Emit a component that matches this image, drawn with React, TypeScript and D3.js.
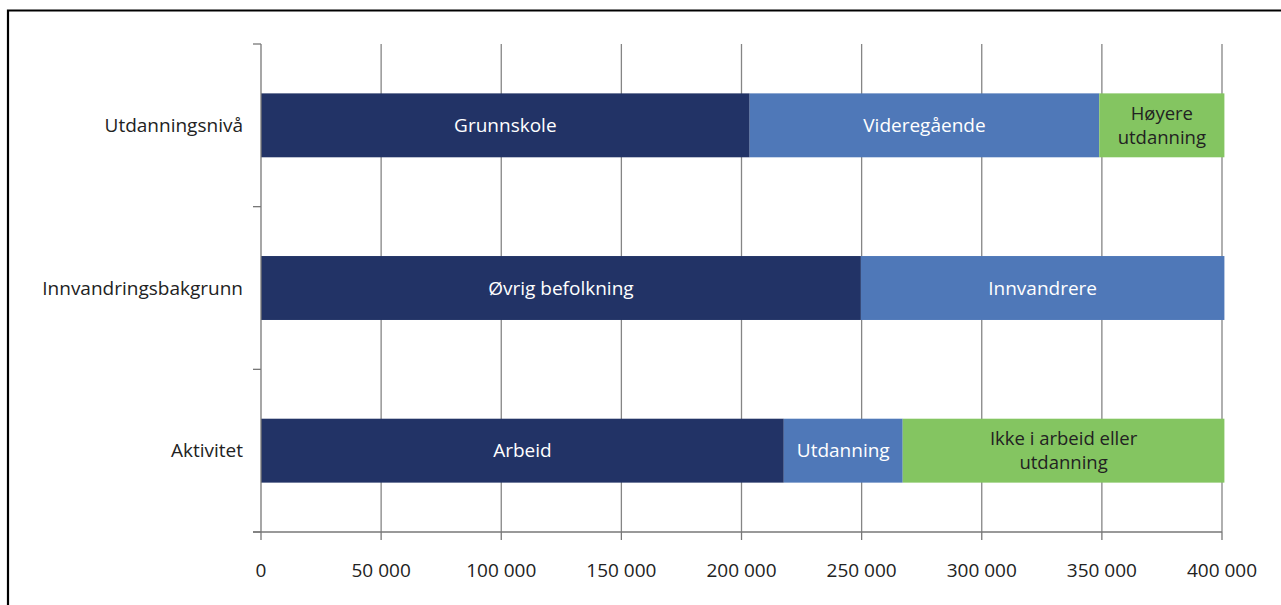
import React, { useEffect, useRef } from 'react';
import * as d3 from 'd3';

// kategorier (ovenfra og ned)
const categories = ['Utdanningsnivå', 'Innvandringsbakgrunn', 'Aktivitet'];

// segmenter per kategori
const educationLabels = ['Grunnskole', 'Videregående', 'Høyere\nutdanning'];
const educationValues = [203400, 145500, 52100];

const immigrationLabels = ['Øvrig befolkning', 'Innvandrere'];
const immigrationValues = [249700, 151300];

const activityLabels = ['Arbeid', 'Utdanning', 'Ikke i arbeid eller\nutdanning'];
const activityValues = [217600, 49500, 133900];

const xTicks = [0, 50000, 100000, 150000, 200000, 250000, 300000, 350000, 400000];

const segmentColors = ['#223366', '#4f78b8', '#84c561'];
const segmentText = ['#ffffff', '#ffffff', '#222222'];

const W = 1281;
const H = 605;

const fmt = (v: number) => d3.format(',')(v).replace(/,/g, ' ');

const App: React.FC = () => {
  const svgRef = useRef<SVGSVGElement>(null);

  useEffect(() => {
    const svg = d3.select(svgRef.current);
    svg.selectAll('*').remove();

    const font = "'Open Sans', 'Noto Sans', sans-serif";
    const fs = 19;
    const margin = { top: 44, right: 59, bottom: 73, left: 261 };

    const x = d3.scaleLinear().domain([0, 400000]).range([margin.left, W - margin.right]);
    const y = d3.scaleBand<string>()
      .domain(categories)
      .range([margin.top, H - margin.bottom])
      .paddingInner(0.607)
      .paddingOuter(0.3035);

    // ramme
    svg.append('path')
      .attr('d', `M8,${H + 5} V10.5 H${W + 5}`)
      .attr('fill', 'none')
      .attr('stroke', '#000')
      .attr('stroke-width', 2.2);

    // rutenett
    svg.append('g')
      .selectAll('line')
      .data(xTicks.slice(1))
      .enter()
      .append('line')
      .attr('x1', d => x(d))
      .attr('x2', d => x(d))
      .attr('y1', margin.top)
      .attr('y2', H - margin.bottom)
      .attr('stroke', '#858585')
      .attr('stroke-width', 1.3);

    // stablede søyler
    const rows = [
      { cat: categories[0], labels: educationLabels, values: educationValues },
      { cat: categories[1], labels: immigrationLabels, values: immigrationValues },
      { cat: categories[2], labels: activityLabels, values: activityValues },
    ];

    rows.forEach(row => {
      const g = svg.append('g');
      let acc = 0;
      row.values.forEach((v, i) => {
        const x0 = x(acc);
        const x1 = x(acc + v);
        acc += v;
        const y0 = y(row.cat) || 0;
        g.append('rect')
          .attr('x', x0)
          .attr('y', y0)
          .attr('width', x1 - x0)
          .attr('height', y.bandwidth())
          .attr('fill', segmentColors[i]);

        const lines = row.labels[i].split('\n');
        const cy = y0 + y.bandwidth() / 2;
        const lh = 24;
        lines.forEach((ln, k) => {
          g.append('text')
            .attr('x', (x0 + x1) / 2)
            .attr('y', cy + (k - (lines.length - 1) / 2) * lh)
            .attr('dy', '0.35em')
            .attr('text-anchor', 'middle')
            .attr('font-family', font)
            .attr('font-size', lines.length > 1 ? 18.5 : fs)
            .attr('fill', segmentText[i])
            .text(ln);
        });
      });
    });

    // venstre akse
    const axisColor = '#777';
    svg.append('line')
      .attr('x1', margin.left).attr('x2', margin.left)
      .attr('y1', margin.top).attr('y2', H - margin.bottom)
      .attr('stroke', axisColor).attr('stroke-width', 1.3);
    const step = y.step();
    svg.append('g')
      .selectAll('line')
      .data(d3.range(categories.length + 1))
      .enter()
      .append('line')
      .attr('x1', margin.left - 8)
      .attr('x2', margin.left)
      .attr('y1', i => margin.top + i * step)
      .attr('y2', i => margin.top + i * step)
      .attr('stroke', axisColor)
      .attr('stroke-width', 1.3);

    svg.append('g')
      .selectAll('text')
      .data(categories)
      .enter()
      .append('text')
      .attr('x', margin.left - 18)
      .attr('y', d => (y(d) || 0) + y.bandwidth() / 2)
      .attr('dy', '0.35em')
      .attr('text-anchor', 'end')
      .attr('font-family', font)
      .attr('font-size', fs)
      .attr('fill', '#222')
      .text(d => d);

    // x-akse
    const baseY = H - margin.bottom;
    svg.append('line')
      .attr('x1', margin.left - 8).attr('x2', x(400000))
      .attr('y1', baseY).attr('y2', baseY)
      .attr('stroke', axisColor).attr('stroke-width', 1.3);
    const xt = svg.append('g')
      .selectAll('g')
      .data(xTicks)
      .enter()
      .append('g');
    xt.append('line')
      .attr('x1', d => x(d)).attr('x2', d => x(d))
      .attr('y1', baseY).attr('y2', baseY + 8)
      .attr('stroke', axisColor).attr('stroke-width', 1.3);
    xt.append('text')
      .attr('x', d => x(d))
      .attr('y', baseY + 38)
      .attr('dy', '0.35em')
      .attr('text-anchor', 'middle')
      .attr('font-family', font)
      .attr('font-size', fs)
      .attr('fill', '#222')
      .text(d => fmt(d));
  }, []);

  return (
    <svg
      ref={svgRef}
      width={W}
      height={H}
      style={{ position: 'absolute', left: 0, top: 0, background: '#fff' }}
    />
  );
};

export default App;
